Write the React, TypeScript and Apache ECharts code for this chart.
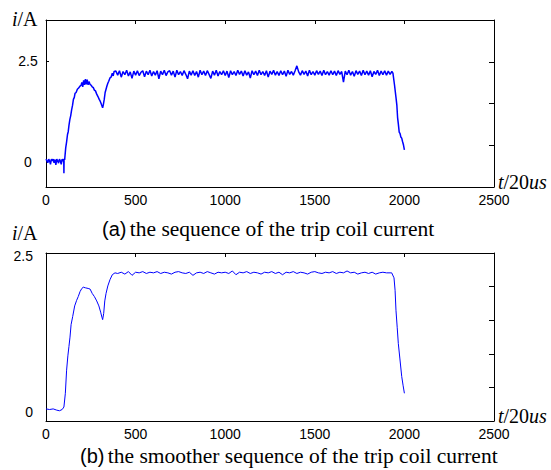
import React, { useEffect, useRef } from 'react';
import * as echarts from 'echarts';

// ---------- data ----------
const xTickInterval = 500;
const xMax = 2500;
const yLabelValues = [0, 2.5];

// (a) raw sequence: baseline, rise, plateau (sampled), fall
const rawBaseX = [0, 5, 10, 15, 20, 25, 30, 35, 40, 45, 50, 55, 60, 65, 70, 75, 80, 85, 90, 95, 99, 100, 101];
const rawBaseY = [0.07, 0.03, -0.02, 0.07, 0.03, -0.06, 0.07, 0.03, 0.07, -0.02, 0.06, -0.07, 0.07, 0.03, -0.03, 0.07, 0.03, -0.06, 0.07, 0.02, 0.06, -0.28, 0.08];
const rawRiseX = [104, 106, 110, 115, 120, 124, 128, 133, 138, 143, 148, 153, 158, 162, 168, 175, 182, 190, 196, 200, 205, 210, 215, 220, 225, 230, 235, 240, 246, 252, 258, 264, 270, 276, 283, 290, 297, 303, 308, 313, 316, 320, 325, 330, 335, 340, 345, 350, 357, 363, 370, 375, 380];
const rawRiseY = [0.05, 0.15, 0.35, 0.5, 0.68, 0.75, 0.9, 1.05, 1.15, 1.29, 1.4, 1.55, 1.6, 1.7, 1.72, 1.8, 1.83, 1.88, 1.9, 1.97, 1.86, 2.02, 1.91, 2.05, 1.92, 2.04, 1.91, 1.99, 1.92, 1.9, 1.86, 1.84, 1.78, 1.76, 1.68, 1.62, 1.55, 1.5, 1.44, 1.38, 1.34, 1.42, 1.55, 1.72, 1.8, 1.88, 1.95, 2.0, 2.08, 2.1, 2.2, 2.13, 2.24];
const rawPlateauStart = 390;
const rawPlateauStep = 10;
const rawPlateauY = [
  2.25, 2.15, 2.26, 2.10, 2.24, 2.16, 2.27, 2.13, 2.23, 2.07,
  2.25, 2.15, 2.26, 2.14, 2.22, 2.26, 2.11, 2.25, 2.16, 2.27,
  2.13, 2.24, 2.15, 2.26, 2.06, 2.25, 2.16, 2.27, 2.14, 2.23,
  2.26, 2.15, 2.25, 2.10, 2.27, 2.16, 2.24, 2.14, 2.26, 2.17,
  2.06, 2.25, 2.15, 2.26, 2.14, 2.24, 2.10, 2.27, 2.16, 2.25,
  2.14, 2.26, 2.17, 2.07, 2.25, 2.15, 2.27, 2.13, 2.24, 2.16,
  2.26, 2.14, 2.25, 2.09, 2.26, 2.16, 2.24, 2.14, 2.27, 2.17,
  2.25, 2.13, 2.26, 2.15, 2.23, 2.08, 2.26, 2.16, 2.25, 2.14,
  2.27, 2.16, 2.24, 2.14, 2.26, 2.10, 2.25, 2.17, 2.27, 2.15,
  2.24, 2.14, 2.26, 2.16, 2.25, 2.12, 2.27, 2.17, 2.24, 2.15,
  2.26, 2.38, 2.23, 2.15, 2.26, 2.17, 2.25, 2.13, 2.27, 2.16,
  2.24, 2.15, 2.26, 2.17, 2.25, 2.14, 2.27, 2.16, 2.24, 2.15,
  2.26, 2.16, 2.25, 2.14, 2.26, 2.17, 2.24, 1.98, 2.25, 2.16,
  2.27, 2.15, 2.24, 2.12, 2.26, 2.17, 2.25, 2.14, 2.27, 2.16,
  2.25, 2.15, 2.26, 2.11, 2.24, 2.17, 2.27, 2.14, 2.25, 2.16,
  2.26, 2.15, 2.25, 2.17, 2.24,
];
const rawFallX = [1936, 1945, 1953, 1958, 1962, 1966, 1971, 1976, 1980, 1985, 1990, 1995, 2000];
const rawFallY = [2.2, 1.9, 1.6, 1.4, 1.1, 0.95, 0.74, 0.7, 0.62, 0.59, 0.5, 0.42, 0.3];

// (b) smoothed sequence
const smoothRiseX = [0, 20, 40, 60, 75, 90, 100, 108, 115, 122, 128, 134, 140, 149, 160, 171, 180, 190, 200, 208, 220, 235, 246, 258, 270, 283, 295, 305, 312, 316, 322, 328, 335, 345, 357, 370, 385];
const smoothRiseY = [0.05, 0.04, 0.05, 0.03, 0.02, 0.04, 0.08, 0.3, 0.67, 0.9, 1.05, 1.2, 1.4, 1.53, 1.7, 1.79, 1.85, 1.93, 1.98, 2.0, 1.99, 1.98, 1.97, 1.9, 1.85, 1.78, 1.7, 1.6, 1.52, 1.48, 1.58, 1.78, 1.9, 2.02, 2.12, 2.2, 2.23];
const smoothPlateauStart = 400;
const smoothPlateauStep = 20;
const smoothPlateauY = [
  2.22, 2.24, 2.21, 2.25, 2.19, 2.24, 2.23, 2.25, 2.22, 2.24,
  2.23, 2.25, 2.22, 2.24, 2.23, 2.21, 2.24, 2.25, 2.23, 2.22,
  2.24, 2.19, 2.23, 2.24, 2.22, 2.25, 2.23, 2.21, 2.24, 2.23,
  2.24, 2.22, 2.26, 2.20, 2.24, 2.23, 2.25, 2.22, 2.24, 2.23,
  2.21, 2.24, 2.23, 2.25, 2.22, 2.24, 2.20, 2.24, 2.23, 2.25,
  2.22, 2.24, 2.23, 2.21, 2.24, 2.25, 2.23, 2.22, 2.24, 2.23,
  2.25, 2.22, 2.24, 2.23, 2.26, 2.23, 2.24, 2.21, 2.23, 2.24,
  2.22, 2.24, 2.21, 2.23, 2.24, 2.23, 2.23,
];
const smoothFallX = [1929, 1942, 1948, 1953, 1960, 1966, 1975, 1985, 1993, 2000];
const smoothFallY = [2.23, 2.15, 1.95, 1.63, 1.35, 1.1, 0.85, 0.57, 0.42, 0.3];

const captionA = ['(a)', 'the sequence of the trip coil current'];
const captionB = ['(b)', 'the smoother sequence of the trip coil current'];

// ---------- helpers ----------
function pairs(xs: number[], ys: number[]) {
  return xs.map((x, i) => [x, ys[i]]);
}
function sampled(start: number, step: number, ys: number[]) {
  return ys.map((y, i) => [start + i * step, y]);
}

const rawData = [
  ...pairs(rawBaseX, rawBaseY),
  ...pairs(rawRiseX, rawRiseY),
  ...sampled(rawPlateauStart, rawPlateauStep, rawPlateauY),
  ...pairs(rawFallX, rawFallY),
];
const smoothData = [
  ...pairs(smoothRiseX, smoothRiseY),
  ...sampled(smoothPlateauStart, smoothPlateauStep, smoothPlateauY),
  ...pairs(smoothFallX, smoothFallY),
];

const SANS = "'Liberation Sans', Arial, sans-serif";
const SERIF = "'Liberation Serif', 'Times New Roman', serif";
const BLACK = '#000';
const TICK_FONT = 14;

function bottomX(gridIndex: number) {
  return {
    type: 'value', gridIndex, position: 'bottom', min: 0, max: xMax, interval: xTickInterval,
    axisLine: { show: true, onZero: false, lineStyle: { color: BLACK, width: 1 } },
    axisTick: { show: false },
    axisLabel: { show: true, color: BLACK, fontFamily: SANS, fontSize: TICK_FONT, margin: 6, formatter: (v: number) => String(v) },
    splitLine: { show: false },
  };
}
function topX(gridIndex: number) {
  return {
    type: 'value', gridIndex, position: 'top', min: 0, max: xMax, interval: xTickInterval,
    axisLine: { show: true, onZero: false, lineStyle: { color: BLACK, width: 1 } },
    axisTick: { show: true, inside: true, length: 4, lineStyle: { color: BLACK } },
    axisLabel: { show: false },
    splitLine: { show: false },
  };
}
function rightY(gridIndex: number, max: number) {
  return {
    type: 'value', gridIndex, position: 'right', min: 0, max, interval: 1,
    axisLine: { show: true, onZero: false, lineStyle: { color: BLACK, width: 1 } },
    axisTick: { show: true, inside: true, length: 5, lineStyle: { color: BLACK } },
    axisLabel: { show: false },
    splitLine: { show: false },
  };
}
function unitText(x: number, y: number, text: string, size: number, valign: string) {
  return {
    type: 'text', x, y,
    style: {
      text, fill: BLACK, verticalAlign: valign,
      rich: {
        i: { fontFamily: SERIF, fontSize: size, fontStyle: 'italic', fill: BLACK },
        n: { fontFamily: SERIF, fontSize: size, fill: BLACK },
      },
    },
  };
}
function caption(x: number, y: number, parts: string[]) {
  return {
    type: 'text', x, y,
    style: {
      text: '{s|' + parts[0] + '} {r|' + parts[1] + '}', fill: BLACK, verticalAlign: 'middle',
      rich: {
        s: { fontFamily: SANS, fontSize: 20, fill: BLACK },
        r: { fontFamily: SERIF, fontSize: 21.5, fill: BLACK },
      },
    },
  };
}

export default function App() {
  const ref = useRef<HTMLDivElement>(null);
  useEffect(() => {
    if (!ref.current) return;
    const chart = echarts.init(ref.current, undefined, { renderer: 'svg' });
    const option: any = {
      animation: false,
      backgroundColor: '#fff',
      grid: [
        { left: 46, top: 20, width: 448, height: 167 },
        { left: 46, top: 253, width: 448, height: 168 },
      ],
      xAxis: [bottomX(0), topX(0), bottomX(1), topX(1)],
      yAxis: [
        {
          type: 'value', gridIndex: 0, position: 'left', min: -0.619, max: 3.515,
          axisLine: { show: true, onZero: false, lineStyle: { color: BLACK, width: 1 } },
          axisTick: { show: true, inside: true, length: 3, customValues: [2.5], lineStyle: { color: BLACK } },
          axisLabel: { show: true, customValues: yLabelValues, color: BLACK, fontFamily: SANS, fontSize: TICK_FONT, align: 'center', margin: 18 },
          splitLine: { show: false },
        },
        rightY(0, 4),
        {
          type: 'value', gridIndex: 1, position: 'left', min: -0.144, max: 2.548,
          axisLine: { show: true, onZero: false, lineStyle: { color: BLACK, width: 1 } },
          axisTick: { show: false },
          axisLabel: { show: true, customValues: yLabelValues, color: BLACK, fontFamily: SANS, fontSize: TICK_FONT, align: 'right', margin: 13 },
          splitLine: { show: false },
        },
        rightY(1, 5),
      ],
      series: [
        {
          type: 'line', xAxisIndex: 0, yAxisIndex: 0, data: rawData, showSymbol: false,
          lineStyle: { color: '#0000ff', width: 1.5 }, itemStyle: { color: '#0000ff' },
        },
        {
          type: 'line', xAxisIndex: 2, yAxisIndex: 2, data: smoothData, showSymbol: false,
          lineStyle: { color: '#0000ff', width: 1 }, itemStyle: { color: '#0000ff' },
        },
      ],
      graphic: [
        unitText(12, 19, '{i|i}{n|/A}', 20, 'middle'),
        unitText(12, 233, '{i|i}{n|/A}', 20, 'middle'),
        unitText(498, 192, '{i|t}{n|/20}{i|us}', 20, 'bottom'),
        unitText(498, 426, '{i|t}{n|/20}{i|us}', 20, 'bottom'),
        caption(102, 229, captionA),
        caption(80, 456, captionB),
      ],
    };
    chart.setOption(option);
    return () => chart.dispose();
  }, []);
  return (
    <div
      ref={ref}
      style={{ position: 'absolute', left: 0, top: 0, width: 551, height: 470 }}
    />
  );
}
